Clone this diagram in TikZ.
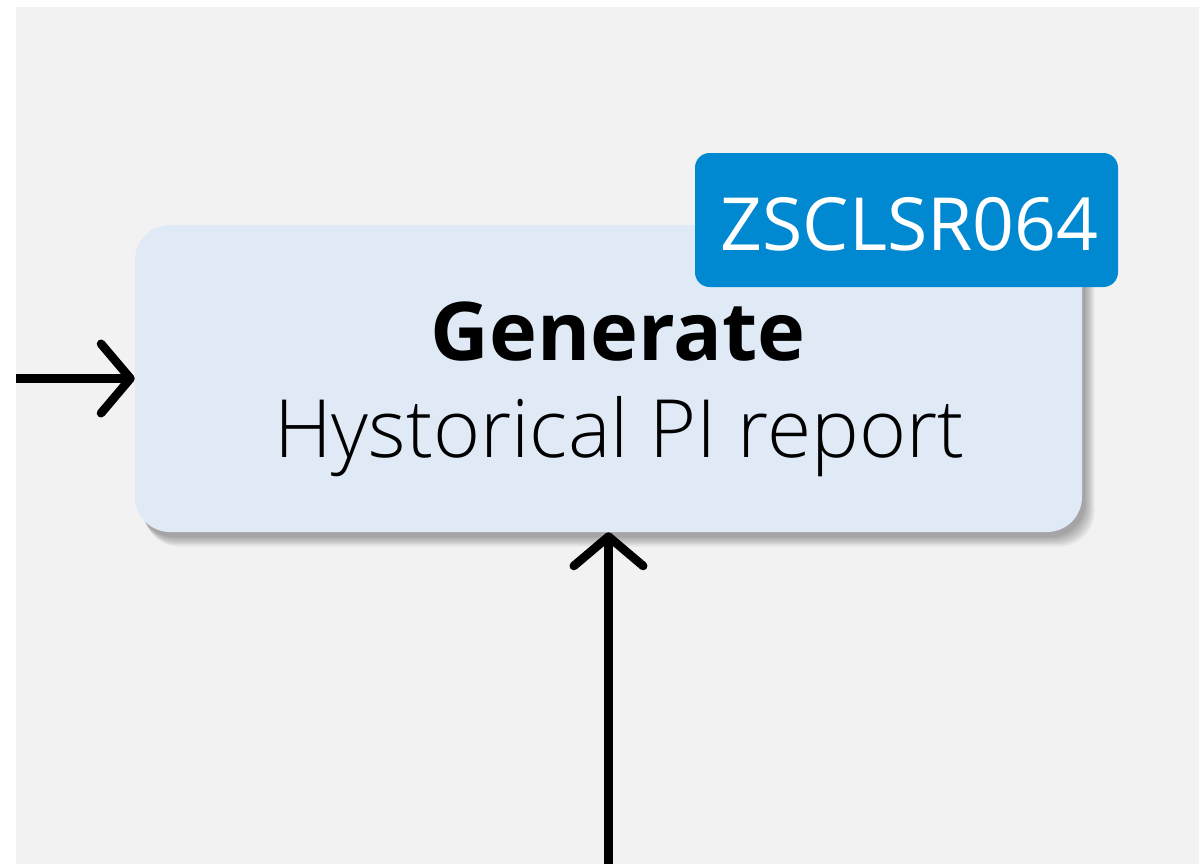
\documentclass[tikz,border=0pt]{standalone}
\usepackage{fontspec}
\setmainfont{Open Sans}
\newfontfamily\oslight{Open Sans Light}
\newfontfamily\osbold{Open Sans Bold}
\usetikzlibrary{arrows.meta}
\definecolor{bg}{HTML}{F2F2F2}
\definecolor{boxfill}{HTML}{DFEAF6}
\definecolor{badgefill}{HTML}{0088D1}
\tikzset{
  mainbox/.style={rectangle, rounded corners=26.25pt, fill=boxfill, inner sep=0pt,
    minimum width=710.25pt, minimum height=230.25pt},
  badge/.style={rectangle, rounded corners=11pt, fill=badgefill, inner sep=0pt,
    minimum width=317.25pt, minimum height=100.5pt},
  conn/.style={line width=6.5pt, -{Straight Barb[length=22pt, width=52pt, round]}},
  shadowlayer/.style={fill=black, opacity=0.04, rounded corners=26.25pt}
}
\begin{document}
\begin{tikzpicture}[x=0.75pt,y=-0.75pt]
\useasboundingbox (0,0) rectangle (1204,864);
\fill[white] (0,0) rectangle (1204,864);
\fill[bg] (16,7) rectangle (1199,864);
% shadow
\foreach \s in {0,2,...,16}{
  \fill[shadowlayer] (135+4+\s/3,225+6+\s/3) rectangle (1082+3+\s*0.6,532+5+\s*0.6);
}
\node[mainbox] (box) at (608.5,378.5) {};
\node[badge] (tag) at (906.5,220) {};
\node[anchor=base, text=white, font=\fontsize{55}{60}\selectfont] (tagtext) at (909.5,250) {ZSCLSR064};
\node[anchor=base, font=\osbold\fontsize{60.8}{66}\selectfont] (title) at (618,360) {Generate};
\node[anchor=base, font=\oslight\fontsize{60.3}{66}\selectfont] (desc) at (619.5,457) {Hystorical PI report};
\coordinate (inL) at (16,378.5);
\coordinate (inB) at (608.5,864);
\draw[conn] (inL) -- (box.west);
\draw[conn] (inB) -- (box.south);
\end{tikzpicture}
\end{document}
